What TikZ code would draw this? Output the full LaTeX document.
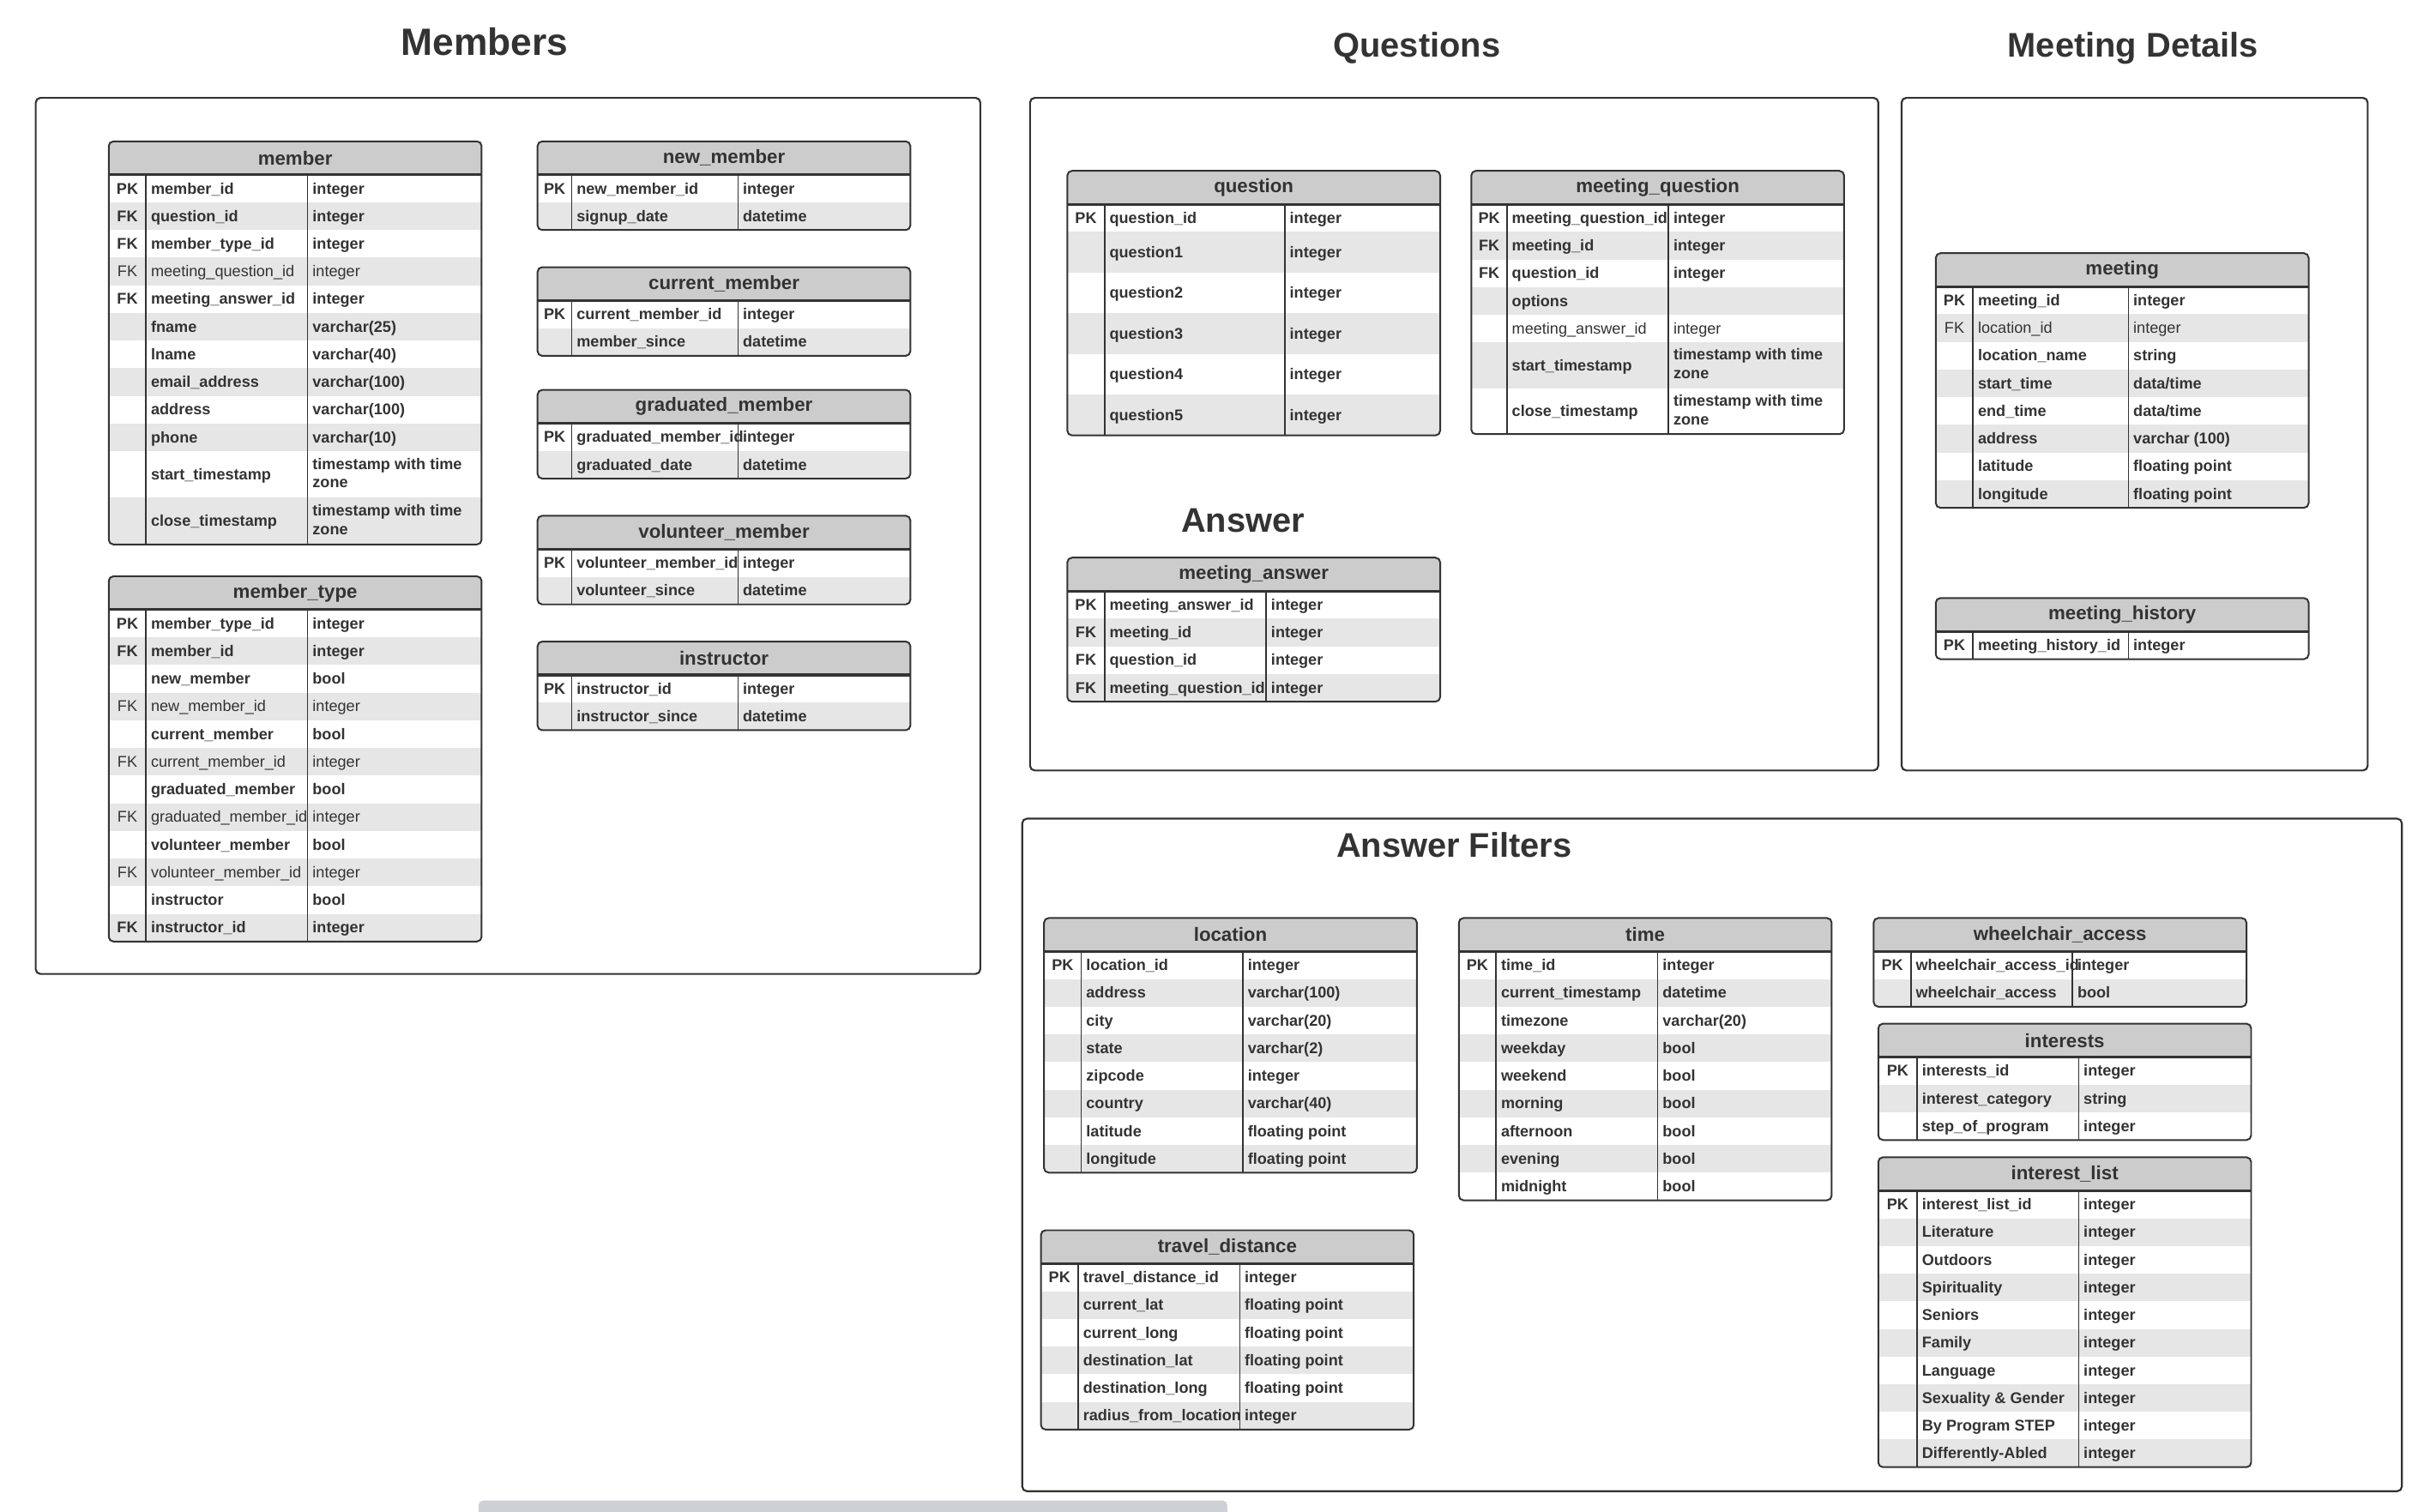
\documentclass[tikz,border=0pt]{standalone}
\usepackage{fontspec}
\setmainfont{Liberation Sans}
\usepackage{tikz}

\definecolor{hdrgray}{HTML}{CCCCCC}
\definecolor{rowgray}{HTML}{E6E6E6}
\definecolor{inkgray}{HTML}{333333}
\definecolor{scrollgray}{HTML}{CDD0D4}

\newcommand{\fieldfont}{\fontsize{10}{12}\selectfont}
\newcommand{\headfont}{\fontsize{12.3}{14}\selectfont\bfseries}
\newcommand{\twoline}[2]{\raisebox{-5.2pt}{\vbox{\hbox{#1}\hbox{#2}}}}

\newcommand{\ertable}[7]{%
	\pgfmathsetmacro\ytop{#4+21.5}
	\global\let\ybot\ytop
	\foreach \kc/\nm/\ty/\h/\wt in {#7}{\pgfmathsetmacro\tmp{\ybot+\h}\global\let\ybot\tmp}
	\begin{scope}
		\clip[rounded corners=3] (#3,#4) rectangle ({#3+240},\ybot);
		\fill[white] (#3,#4) rectangle ({#3+240},\ybot);
		\fill[hdrgray] (#3,#4) rectangle ({#3+240},\ytop);
		\foreach \kc/\nm/\ty/\h/\wt [count=\i, remember=\yb as \ya (initially \ytop)] in {#7}{
			\pgfmathsetmacro\yb{\ya+\h}
			\ifodd\i\else\fill[rowgray] (#3,\ya) rectangle ({#3+240},\yb);\fi
			\node[keycell, font=\fieldfont\csname\wt series\endcsname] (#2-k\i) at ({#3+#5/2},{(\ya+\yb)/2}) {\kc};
			\node[fieldcell, font=\fieldfont\csname\wt series\endcsname] (#2-n\i) at ({#3+#5+3},{(\ya+\yb)/2}) {\nm};
			\node[fieldcell, font=\fieldfont\csname\wt series\endcsname] (#2-t\i) at ({#3+#5+#6+3},{(\ya+\yb)/2}) {\ty};
		}
	\end{scope}
	\node[tablehead] (#2) at ({#3+120},{#4+10.75}) {#1};
	\draw[divider] ({#3+#5},\ytop) -- ({#3+#5},\ybot);
	\draw[divider] ({#3+#5+#6},\ytop) -- ({#3+#5+#6},\ybot);
	\draw[headrule] (#3,\ytop) -- ({#3+240},\ytop);
	\draw[tableborder] (#3,#4) rectangle ({#3+240},\ybot);
}

\begin{document}
\begin{tikzpicture}[x=1pt,y=-1pt,
	fieldcell/.style={anchor=west, inner sep=0pt, text height=7.4pt, text depth=0.6pt, text=inkgray},
	keycell/.style={inner sep=0pt, text height=7.4pt, text depth=0.6pt, text=inkgray},
	tablehead/.style={inner sep=0pt, font=\headfont, text=inkgray},
	sectiontitle/.style={inner sep=0pt, font=\fontsize{22}{26}\selectfont\bfseries, text=inkgray},
	groupframe/.style={draw=inkgray, line width=1.2pt, rounded corners=3},
	divider/.style={draw=inkgray, line width=0.9pt},
	headrule/.style={draw=inkgray, line width=1.7pt},
	tableborder/.style={draw=inkgray, line width=1.1pt, rounded corners=3}]
	
	\useasboundingbox (0,0) rectangle (1568,973);
	
	\draw[groupframe] (23,63) rectangle (631,627);
	\draw[groupframe] (663,63) rectangle (1209,496);
	\draw[groupframe] (1224,63) rectangle (1524,496);
	\draw[groupframe] (658,527) rectangle (1546,960);
	
	\node[sectiontitle, font=\fontsize{24.5}{28}\selectfont\bfseries] (memberstitle) at (312,27) {Members};
	\node[sectiontitle] (questionstitle) at (912,31) {Questions};
	\node[sectiontitle] (detailstitle) at (1373,31) {Meeting Details};
	\node[sectiontitle] (answertitle) at (800,335) {Answer};
	\node[sectiontitle] (filterstitle) at (936,544) {Answer Filters};
	
	\ertable{member}{member}{70}{91}{24}{104}{PK/member\_id/integer/17.8/bf, FK/question\_id/integer/17.8/bf, FK/member\_type\_id/integer/17.8/bf, FK/meeting\_question\_id/integer/17.8/md, FK/meeting\_answer\_id/integer/17.8/bf, {}/fname/varchar(25)/17.8/bf, {}/lname/varchar(40)/17.8/bf, {}/email\_address/varchar(100)/17.8/bf, {}/address/varchar(100)/17.8/bf, {}/phone/varchar(10)/17.8/bf, {}/start\_timestamp/\twoline{timestamp with time}{zone}/30/bf, {}/close\_timestamp/\twoline{timestamp with time}{zone}/30/bf}
	
	\ertable{member\_type}{membertype}{70}{371}{24}{104}{PK/member\_type\_id/integer/17.8/bf, FK/member\_id/integer/17.8/bf, {}/new\_member/bool/17.8/bf, FK/new\_member\_id/integer/17.8/md, {}/current\_member/bool/17.8/bf, FK/current\_member\_id/integer/17.8/md, {}/graduated\_member/bool/17.8/bf, FK/graduated\_member\_id/integer/17.8/md, {}/volunteer\_member/bool/17.8/bf, FK/volunteer\_member\_id/integer/17.8/md, {}/instructor/bool/17.8/bf, FK/instructor\_id/integer/17.8/bf}
	
	\ertable{new\_member}{newmember}{346}{91}{22}{107}{PK/new\_member\_id/integer/17.8/bf, {}/signup\_date/datetime/17.8/bf}
	\ertable{current\_member}{currentmember}{346}{172}{22}{107}{PK/current\_member\_id/integer/17.8/bf, {}/member\_since/datetime/17.8/bf}
	\ertable{graduated\_member}{graduatedmember}{346}{251}{22}{107}{PK/graduated\_member\_id/integer/17.8/bf, {}/graduated\_date/datetime/17.8/bf}
	\ertable{volunteer\_member}{volunteermember}{346}{332}{22}{107}{PK/volunteer\_member\_id/integer/17.8/bf, {}/volunteer\_since/datetime/17.8/bf}
	\ertable{instructor}{instructor}{346}{413}{22}{107}{PK/instructor\_id/integer/17.8/bf, {}/instructor\_since/datetime/17.8/bf}
	
	\ertable{question}{question}{687}{110}{24}{116}{PK/question\_id/integer/17.8/bf, {}/question1/integer/26.2/bf, {}/question2/integer/26.2/bf, {}/question3/integer/26.2/bf, {}/question4/integer/26.2/bf, {}/question5/integer/26.2/bf}
	\ertable{meeting\_question}{meetingquestion}{947}{110}{23}{104}{PK/meeting\_question\_id/integer/17.8/bf, FK/meeting\_id/integer/17.8/bf, FK/question\_id/integer/17.8/bf, {}/options/{}/17.8/bf, {}/meeting\_answer\_id/integer/17.8/md, {}/start\_timestamp/\twoline{timestamp with time}{zone}/29.5/bf, {}/close\_timestamp/\twoline{timestamp with time}{zone}/29.5/bf}
	\ertable{meeting\_answer}{meetinganswer}{687}{359}{24}{104}{PK/meeting\_answer\_id/integer/17.8/bf, FK/meeting\_id/integer/17.8/bf, FK/question\_id/integer/17.8/bf, FK/meeting\_question\_id/integer/17.8/bf}
	
	\ertable{meeting}{meeting}{1246}{163}{24}{100}{PK/meeting\_id/integer/17.8/bf, FK/location\_id/integer/17.8/md, {}/location\_name/string/17.8/bf, {}/start\_time/{data/time}/17.8/bf, {}/end\_time/{data/time}/17.8/bf, {}/address/varchar (100)/17.8/bf, {}/latitude/floating point/17.8/bf, {}/longitude/floating point/17.8/bf}
	\ertable{meeting\_history}{meetinghistory}{1246}{385}{24}{100}{PK/meeting\_history\_id/integer/17.8/bf}
	
	\ertable{location}{location}{672}{591}{24}{104}{PK/location\_id/integer/17.8/bf, {}/address/varchar(100)/17.8/bf, {}/city/varchar(20)/17.8/bf, {}/state/varchar(2)/17.8/bf, {}/zipcode/integer/17.8/bf, {}/country/varchar(40)/17.8/bf, {}/latitude/floating point/17.8/bf, {}/longitude/floating point/17.8/bf}
	\ertable{time}{time}{939}{591}{24}{104}{PK/time\_id/integer/17.8/bf, {}/current\_timestamp/datetime/17.8/bf, {}/timezone/varchar(20)/17.8/bf, {}/weekday/bool/17.8/bf, {}/weekend/bool/17.8/bf, {}/morning/bool/17.8/bf, {}/afternoon/bool/17.8/bf, {}/evening/bool/17.8/bf, {}/midnight/bool/17.8/bf}
	\ertable{travel\_distance}{traveldistance}{670}{792}{24}{104}{PK/travel\_distance\_id/integer/17.8/bf, {}/current\_lat/floating point/17.8/bf, {}/current\_long/floating point/17.8/bf, {}/destination\_lat/floating point/17.8/bf, {}/destination\_long/floating point/17.8/bf, {}/radius\_from\_location/integer/17.8/bf}
	\ertable{wheelchair\_access}{wheelchairaccess}{1206}{591}{24}{104}{PK/wheelchair\_access\_id/integer/17.8/bf, {}/wheelchair\_access/bool/17.8/bf}
	\ertable{interests}{interests}{1209}{659}{25}{104}{PK/interests\_id/integer/17.8/bf, {}/interest\_category/string/17.8/bf, {}/step\_of\_program/integer/17.8/bf}
	\ertable{interest\_list}{interestlist}{1209}{745}{25}{104}{PK/interest\_list\_id/integer/17.8/bf, {}/Literature/integer/17.8/bf, {}/Outdoors/integer/17.8/bf, {}/Spirituality/integer/17.8/bf, {}/Seniors/integer/17.8/bf, {}/Family/integer/17.8/bf, {}/Language/integer/17.8/bf, {}/Sexuality \& Gender/integer/17.8/bf, {}/By Program STEP/integer/17.8/bf, {}/Differently-Abled/integer/17.8/bf}
	
	\fill[scrollgray, rounded corners=3] (308,966) rectangle (790,978);
\end{tikzpicture}
\end{document}
